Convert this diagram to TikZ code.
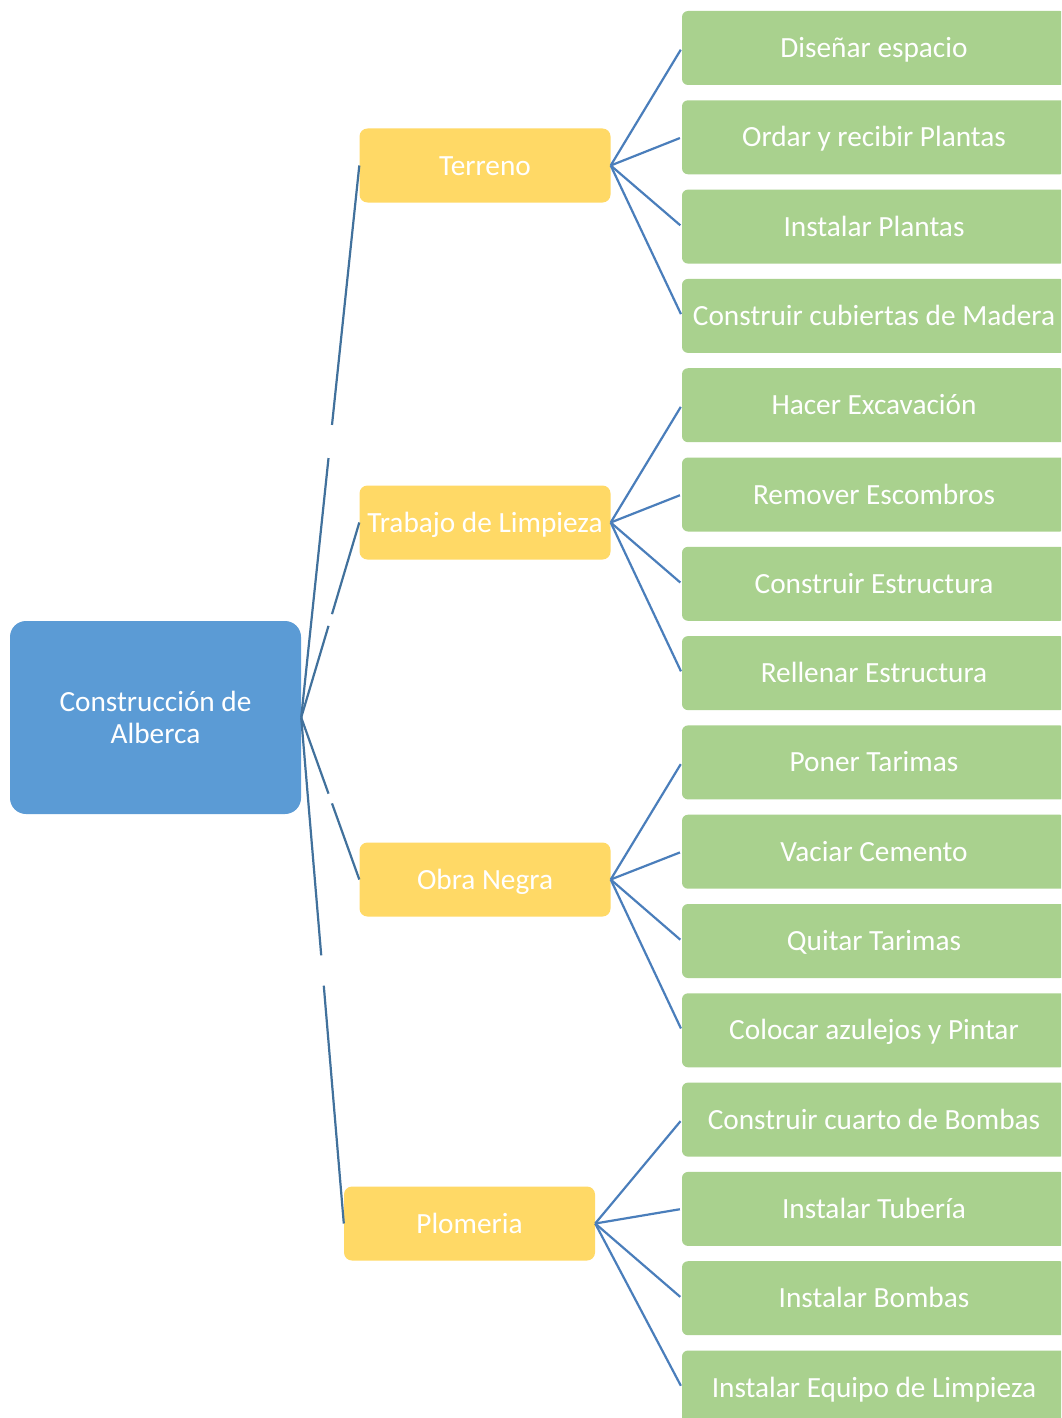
\documentclass[tikz,border=0pt]{standalone}
\usepackage{fontspec}
\setmainfont{Carlito}
\usetikzlibrary{calc}
\definecolor{rootblue}{RGB}{91,155,213}
\definecolor{phaseyellow}{RGB}{255,217,102}
\definecolor{taskgreen}{RGB}{169,209,142}
\definecolor{linkdark}{RGB}{65,113,156}
\definecolor{linkblue}{RGB}{74,126,187}
\tikzset{
  boxfont/.style={font=\fontsize{29.3}{32}\selectfont},
  rootbox/.style={fill=rootblue, rounded corners=16pt, minimum width=291pt, minimum height=193pt,
    text=white, align=center, inner sep=0pt, boxfont},
  phasebox/.style={fill=phaseyellow, rounded corners=8pt, minimum width=251pt, minimum height=74pt,
    text=white, inner sep=0pt, boxfont, text height=25pt, text depth=6pt},
  taskbox/.style={fill=taskgreen, rounded corners=6pt, minimum width=384pt, minimum height=74pt,
    text=white, inner sep=0pt, boxfont, text height=25pt, text depth=6pt},
  rootlink/.style={draw=linkdark, line width=2.2pt},
  tasklink/.style={draw=linkblue, line width=2.2pt, shorten >=2pt}
}
\begin{document}
\begin{tikzpicture}[x=1pt,y=-1pt]
\useasboundingbox (0,0) rectangle (1061,1418);
\clip (0,0) rectangle (1061,1418);
\fill[white] (0,0) rectangle (1061,1418);

% root
\node[rootbox] (root) at (155.5,717.5) {Construcción de\\Alberca};

% phases
\node[phasebox] (p1) at (485,165.5) {Terreno};
\node[phasebox] (p2) at (485,522.5) {Trabajo de Limpieza};
\node[phasebox] (p3) at (485,879.5) {Obra Negra};
\node[phasebox] (p4) at (469.5,1223.5) {Plomeria};

% tasks
\foreach \i/\txt in {0/Diseñar espacio, 1/Ordar y recibir Plantas, 2/Instalar Plantas,
  3/Construir cubiertas de Madera, 4/Hacer Excavación, 5/Remover Escombros,
  6/Construir Estructura, 7/Rellenar Estructura, 8/Poner Tarimas, 9/Vaciar Cemento,
  10/Quitar Tarimas, 11/Colocar azulejos y Pintar, 12/Construir cuarto de Bombas,
  13/Instalar Tubería, 14/Instalar Bombas, 15/Instalar Equipo de Limpieza}
  \node[taskbox] (t\i) at (874,{48+89.3*\i}) {\txt};

% links from the root, each with a short break in the middle
\foreach \p in {p1,p2,p3,p4}{
  \draw[rootlink] (root.east) -- ($(root.east)!0.47!(\p.west)$);
  \draw[rootlink] ($(root.east)!0.53!(\p.west)$) -- (\p.west);
}

% links from the phases to their tasks
\foreach \t in {0,1,2,3} \draw[tasklink] (p1.east) -- (t\t.west);
\foreach \t in {4,5,6,7} \draw[tasklink] (p2.east) -- (t\t.west);
\foreach \t in {8,9,10,11} \draw[tasklink] (p3.east) -- (t\t.west);
\foreach \t in {12,13,14,15} \draw[tasklink] (p4.east) -- (t\t.west);
\end{tikzpicture}
\end{document}
